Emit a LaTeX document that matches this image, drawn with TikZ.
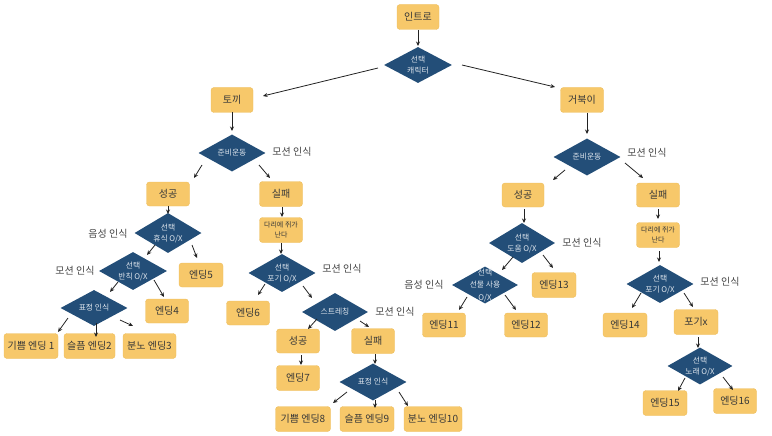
\documentclass[tikz,border=0pt]{standalone}
\usepackage{fontspec}
\setmainfont{Noto Sans CJK KR}
\usetikzlibrary{shapes.geometric,calc,arrows.meta}
\definecolor{boxc}{HTML}{F7C86A}
\definecolor{boxd}{HTML}{EDBD5C}
\definecolor{diac}{HTML}{234E78}
\definecolor{diat}{HTML}{DDE4EC}
\definecolor{txt}{HTML}{383838}
\definecolor{lbl}{HTML}{454545}
\definecolor{arrc}{HTML}{222222}
\tikzset{
  bx/.style={draw=boxd, line width=0.4pt, fill=boxc, rounded corners=3pt, minimum width=43pt, minimum height=25pt, inner sep=0pt, text=txt, font=\fontsize{10}{12}\selectfont, align=center},
  smallbx/.style={bx, font=\fontsize{7}{10.5}\selectfont},
  dia/.style={diamond, fill=diac, draw=none, inner sep=0pt, minimum width=67pt, minimum height=38pt},
  dtxt/.style={text=diat, font=\fontsize{7.8}{11}\selectfont, align=center, inner sep=0pt},
  lab/.style={text=lbl, font=\fontsize{10}{12}\selectfont, inner sep=0pt},
  arr/.style={draw=arrc, line width=0.8pt, -{Stealth[length=4.5pt,width=4pt]}}
}
\newcommand\myarrow[4]{\draw[arr] ($(#1)+(#2)$) -- ($(#3)+(#4)$);}
\newcommand\mydia[5]{\node[dia, minimum width=#3pt, minimum height=#4pt] (#1) at (#2) {};\node[dtxt] (#1t) at (#1) {#5};}
\begin{document}
\begin{tikzpicture}[x=1pt,y=-1pt]
\useasboundingbox (0,0) rectangle (772,436);
% boxes
\node[bx, minimum width=42pt] (intro) at (418,17) {인트로};
\node[bx, minimum width=42pt] (tokki) at (232,100) {토끼};
\node[bx] (gb) at (582,100) {거북이};
\node[bx, minimum height=24pt] (sL) at (168,194) {성공};
\node[bx] (fL) at (281,194) {실패};
\node[bx, minimum width=44pt, minimum height=24pt] (e5) at (201,275) {엔딩5};
\node[bx, minimum height=24pt] (e4) at (167,311) {엔딩4};
\node[bx, minimum width=54pt] (e1) at (31,346) {기쁨 엔딩 1};
\node[bx, minimum width=51pt] (e2) at (89.5,346) {슬픔 엔딩2};
\node[bx, minimum width=53pt] (e3) at (149.5,346) {분노 엔딩3};
\node[smallbx] (legL) at (281,230) {다리에 쥐가\\난다};
\node[bx, minimum height=24pt] (e6) at (248,313) {엔딩6};
\node[bx, minimum height=24pt] (s2) at (298,341) {성공};
\node[bx] (f2) at (373,341) {실패};
\node[bx] (e7) at (298,378) {엔딩7};
\node[bx, minimum width=55pt] (e8) at (303,419) {기쁨 엔딩8};
\node[bx, minimum width=54pt] (e9) at (367,419) {슬픔 엔딩9};
\node[bx, minimum width=58pt] (e10) at (433,419) {분노 엔딩10};
\node[bx, minimum width=42pt, minimum height=24pt] (sR) at (523,195) {성공};
\node[bx, minimum height=24pt] (fR) at (658,195) {실패};
\node[bx, minimum width=44pt] (e13) at (554,285) {엔딩13};
\node[bx, minimum height=24pt] (e11) at (444,325) {엔딩11};
\node[bx, minimum height=24pt] (e12) at (526,325) {엔딩12};
\node[smallbx] (legR) at (658,235) {다리에 쥐가\\난다};
\node[bx, minimum width=44pt, minimum height=24pt] (e14) at (625,325) {엔딩14};
\node[bx, minimum width=44pt] (pgx) at (696,322) {포기x};
\node[bx, minimum width=44pt] (e15) at (665,403) {엔딩15};
\node[bx] (e16) at (735,401) {엔딩16};
% diamonds
\mydia{dsel}{418,65}{68}{36}{선택\\캐릭터}
\mydia{djL}{232,153}{67}{37}{준비운동}
\mydia{djR}{587,157}{67}{37}{준비운동}
\mydia{drest}{168,233}{67}{40}{선택\\휴식 O/X}
\mydia{dfoul}{133,271}{68}{38}{선택\\반칙 O/X}
\mydia{dface1}{94,308}{67}{36}{표정 인식}
\mydia{dgiveL}{282,273}{67}{38}{선택\\포기 O/X}
\mydia{dstr}{335,312}{66}{38}{스트레칭}
\mydia{dface2}{373,382}{67}{37}{표정 인식}
\mydia{dhelp}{522,243}{66}{40}{선택\\도움 O/X}
\node[dia, minimum width=66pt, minimum height=37pt] (dgift) at (485,285) {};
\node[dtxt, font=\fontsize{7.8}{12.5}\selectfont] (dgiftt) at (dgift) {선택\\선물 사용\\O/X};
\mydia{dgiveR}{660,284}{67}{38}{선택\\포기 O/X}
\mydia{dsong}{700,366}{65}{37}{선택\\노래 O/X}
% labels
\node[lab] (l1) at (292,152) {모션 인식};
\node[lab] (l2) at (647,153) {모션 인식};
\node[lab] (l3) at (108,234) {음성 인식};
\node[lab] (l4) at (75,271) {모션 인식};
\node[lab] (l5) at (342,269) {모션 인식};
\node[lab] (l6) at (395,312) {모션 인식};
\node[lab] (l7) at (582,243) {모션 인식};
\node[lab] (l8) at (424,285) {음성 인식};
\node[lab] (l9) at (720,282) {모션 인식};
% arrows
\myarrow{intro}{0,13}{dsel}{0,-19}
\myarrow{dsel}{-40,3}{tokki}{31,-4}
\myarrow{dsel}{44,0}{gb}{-27,-13}
\myarrow{tokki}{0,12}{djL}{0,-22}
\myarrow{gb}{5,13}{djR}{0,-23}
\myarrow{djL}{-30,12}{sL}{26,-16}
\myarrow{djL}{27,12}{fL}{-11,-16}
\myarrow{sL}{0,12}{drest}{0,-19}
\myarrow{drest}{-13,12}{dfoul}{14,-16}
\myarrow{drest}{24,12}{e5}{-4,-17}
\myarrow{dfoul}{-15,11}{dface1}{16,-16}
\myarrow{dfoul}{21,9}{e4}{-3,-14}
\myarrow{dface1}{-26,10}{e1}{27,-14}
\myarrow{dface1}{2,15}{e2}{6.5,-9}
\myarrow{dface1}{26,12}{e3}{-16.5,-20}
\myarrow{fL}{1,13}{legL}{1,-13}
\myarrow{legL}{0,13}{dgiveL}{-1,-19}
\myarrow{dgiveL}{-17,11}{e6}{10,-18}
\myarrow{dgiveL}{21,13}{dstr}{-23,-14}
\myarrow{dstr}{-18,7}{s2}{10,-12}
\myarrow{dstr}{25,9}{f2}{-4,-14}
\myarrow{s2}{3,14}{e7}{3,-13}
\myarrow{f2}{2,13}{dface2}{2,-18}
\myarrow{dface2}{-26,10}{e8}{30,-16}
\myarrow{dface2}{2,18}{e9}{8,-11}
\myarrow{dface2}{26,10}{e10}{-25,-13}
\myarrow{djR}{-22,13}{sR}{30,-15}
\myarrow{djR}{38,6}{fR}{-15,-17}
\myarrow{sR}{1,14}{dhelp}{2,-20}
\myarrow{dhelp}{-9,14}{dgift}{17,-15}
\myarrow{dhelp}{21,12}{e13}{-1,-17}
\myarrow{dgift}{-18,12}{e11}{15,-15}
\myarrow{dgift}{20,10}{e12}{-10,-15}
\myarrow{fR}{0,14}{legR}{0,-16}
\myarrow{legR}{1,16}{dgiveR}{-1,-22}
\myarrow{dgiveR}{-19,9}{e14}{7,-17}
\myarrow{dgiveR}{24,9}{pgx}{-3,-15}
\myarrow{pgx}{2,15}{dsong}{-2,-18}
\myarrow{dsong}{-15,12}{e15}{13,-12}
\myarrow{dsong}{23,11}{e16}{-2,-11}
\end{tikzpicture}
\end{document}
